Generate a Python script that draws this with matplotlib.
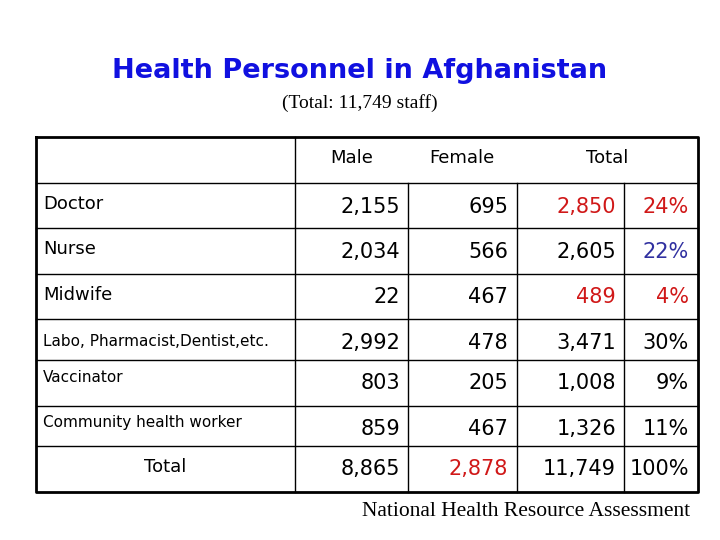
import matplotlib.pyplot as plt

categories = ["Doctor", "Nurse", "Midwife", "Labo, Pharmacist,Dentist,etc.",
              "Vaccinator", "Community health worker", "Total"]
male = ["2,155", "2,034", "22", "2,992", "803", "859", "8,865"]
female = ["695", "566", "467", "478", "205", "467", "2,878"]
total = ["2,850", "2,605", "489", "3,471", "1,008", "1,326", "11,749"]
share = ["24%", "22%", "4%", "30%", "9%", "11%", "100%"]

RED = "#d01818"
BLUE = "#3030a0"
total_colors = [RED, "black", RED, "black", "black", "black", "black"]
share_colors = [RED, BLUE, RED, "black", "black", "black", "black"]
female_colors = ["black"] * 6 + [RED]

fig = plt.figure(figsize=(7.2, 5.4), dpi=100)
ax = fig.add_axes([0, 0, 1, 1])
ax.set_xlim(0, 720)
ax.set_ylim(540, 0)
ax.axis("off")

font = "DejaVu Sans"
ax.text(360, 71, "Health Personnel in Afghanistan", ha="center", va="center",
        fontsize=19.5, fontweight="bold", color="#1010e0", family=font)
ax.text(360, 103, "(Total: 11,749 staff)", ha="center", va="center",
        fontsize=14, family="Liberation Serif")
ax.text(690, 511, "National Health Resource Assessment", ha="right", va="center",
        fontsize=15.5, family="Liberation Serif")

# grid
left, right, top, bottom = 36, 698, 137, 492
row_lines = [183, 228, 274, 319, 360, 406, 446]
ax.plot([left, right, right, left, left], [top, top, bottom, bottom, top], color="black", lw=2)
for y in row_lines:
    ax.plot([left, right], [y, y], color="black", lw=1)
ax.plot([295, 295], [top, bottom], color="black", lw=1)
for x in [408, 517, 624]:
    ax.plot([x, x], [183, bottom], color="black", lw=1)

ax.text(352, 158, "Male", ha="center", va="center", fontsize=13, family=font)
ax.text(462, 158, "Female", ha="center", va="center", fontsize=13, family=font)
ax.text(607, 158, "Total", ha="center", va="center", fontsize=13, family=font)

label_y = [204, 249, 295, 342, 378, 423, 467]
label_size = [13, 13, 13, 11, 11, 11, 13]
value_y = [207, 252, 297, 343, 383, 429, 469]
for i, cat in enumerate(categories):
    if cat == "Total":
        ax.text(165, label_y[i], cat, ha="center", va="center", fontsize=label_size[i], family=font)
    else:
        ax.text(43, label_y[i], cat, ha="left", va="center", fontsize=label_size[i], family=font)
    ax.text(400, value_y[i], male[i], ha="right", va="center", fontsize=15, family=font)
    ax.text(508, value_y[i], female[i], ha="right", va="center", fontsize=15,
            family=font, color=female_colors[i])
    ax.text(616, value_y[i], total[i], ha="right", va="center", fontsize=15,
            family=font, color=total_colors[i])
    ax.text(689, value_y[i], share[i], ha="right", va="center", fontsize=15,
            family=font, color=share_colors[i])

fig.savefig("out.png", dpi=100)
